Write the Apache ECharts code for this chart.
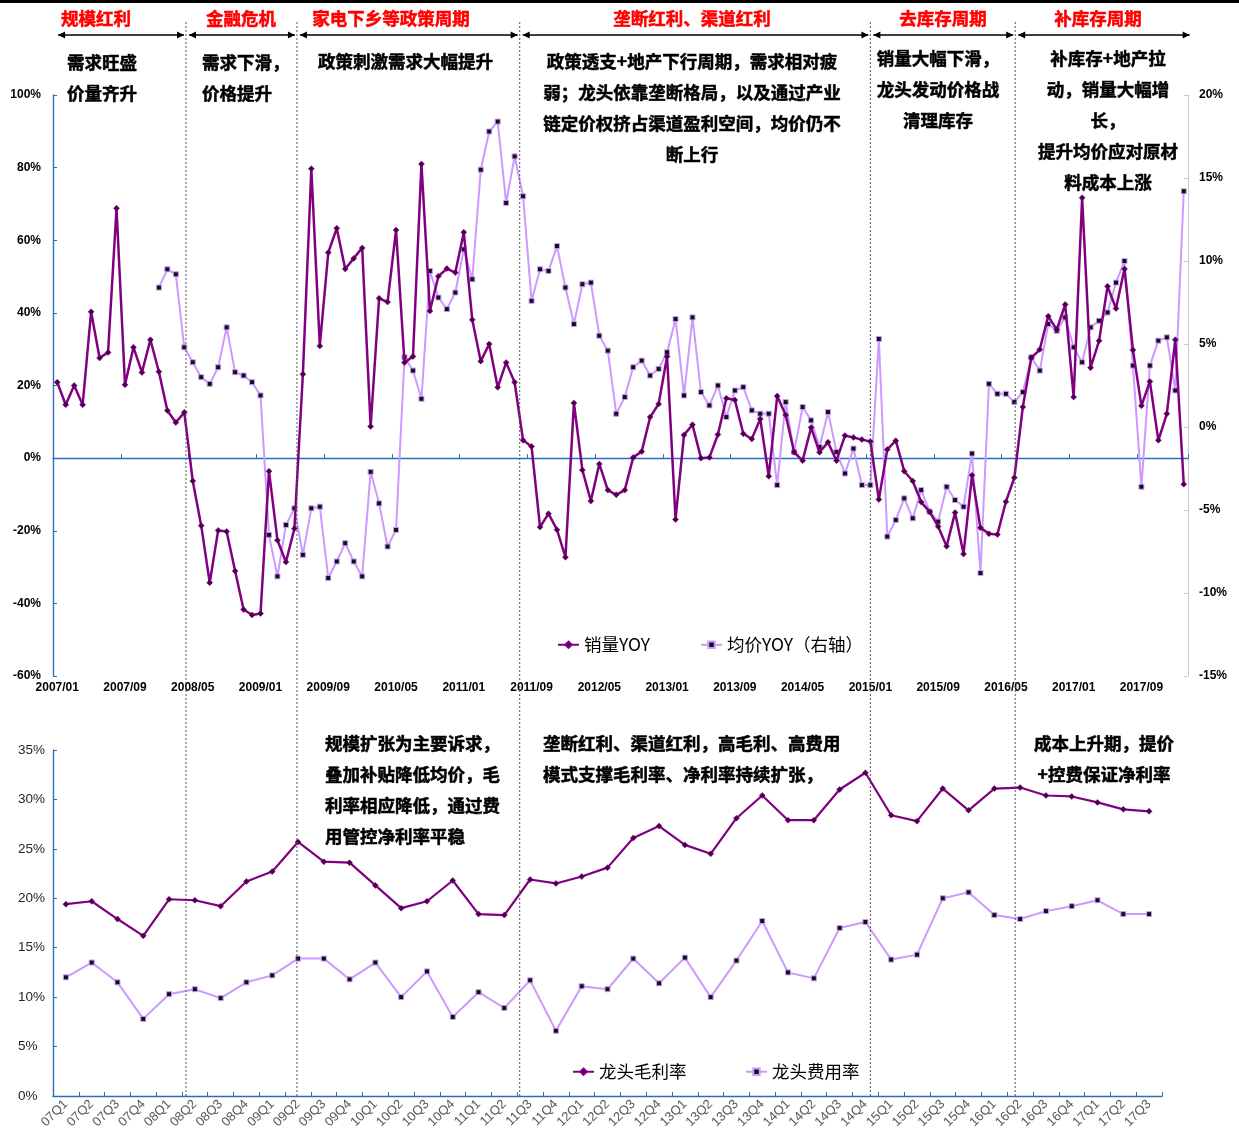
<!DOCTYPE html>
<html>
<head>
<meta charset="utf-8">
<script src="https://cdn.jsdelivr.net/npm/echarts@6/dist/echarts.min.js"></script>
<style>
  html, body { margin: 0; padding: 0; background: #fff; }
  #chart { width: 1239px; height: 1137px; }
</style>
</head>
<body>
<div id="chart"></div>
<script>
// Monthly categories, 2007/01 – 2018/02
const months = [];
for (let y = 2007; y <= 2018; y++) {
  for (let m = 1; m <= 12; m++) {
    if (y === 2018 && m > 2) break;
    months.push(y + '/' + String(m).padStart(2, '0'));
  }
}

// 销量YOY (%), left axis
const salesYoy = [
  20.9, 14.7, 20.0, 14.7, 40.3, 27.6, 29.1, 68.8, 20.2, 30.5, 23.6, 32.6,
  23.8, 13.1, 9.8, 12.6, -6.3, -18.6, -34.3, -19.9, -20.2, -31.1, -41.7, -43.2,
  -42.8, -3.6, -22.6, -28.6, -19.4, 23.1, 79.7, 30.9, 56.6, 63.3, 52.1, 55.0,
  57.9, 8.7, 44.0, 43.0, 62.8, 26.3, 28.0, 81.0, 40.5, 50.1, 52.2, 51.1,
  62.2, 38.1, 26.7, 31.4, 19.5, 26.3, 20.9, 4.9, 3.2, -19.0, -15.3, -19.7,
  -27.3, 15.2, -3.3, -11.8, -1.6, -8.8, -10.1, -8.8, 0.2, 1.8, 11.3, 14.9,
  28.0, -16.9, 6.4, 9.2, 0.0, 0.2, 6.5, 16.5, 16.0, 6.7, 5.3, 10.8,
  -5.0, 17.1, 11.9, 1.6, -0.7, 8.4, 1.6, 4.4, -0.7, 6.2, 5.7, 5.1,
  4.6, -11.4, 2.4, 4.8, -3.6, -6.3, -12.1, -14.8, -18.8, -24.3, -15.0, -26.4,
  -4.7, -19.2, -20.8, -21.0, -12.0, -5.4, 14.1, 27.6, 29.9, 39.1, 35.4, 42.3,
  16.8, 71.7, 24.9, 32.3, 47.3, 41.2, 52.1, 29.8, 14.4, 21.1, 4.9, 12.2,
  32.6, -7.2
];

// 均价YOY (%), right axis; series begins 2008/01
const priceYoy = [
  '-', '-', '-', '-', '-', '-', '-', '-', '-', '-', '-', '-',
  8.4, 9.5, 9.2, 4.8, 3.9, 3.0, 2.6, 3.6, 6.0, 3.3, 3.1, 2.7,
  1.9, -6.5, -9.0, -5.9, -4.9, -7.7, -4.9, -4.8, -9.1, -8.1, -7.0, -8.1,
  -9.0, -2.7, -4.6, -7.2, -6.2, 4.2, 3.4, 1.7, 9.4, 7.8, 7.1, 8.1,
  10.7, 8.9, 15.5, 17.8, 18.4, 13.5, 16.3, 13.9, 7.6, 9.5, 9.4, 10.9,
  8.4, 6.2, 8.6, 8.7, 5.5, 4.6, 0.8, 1.8, 3.6, 4.0, 3.1, 3.5,
  4.5, 6.5, 1.9, 6.6, 2.1, 1.3, 2.5, 0.6, 2.2, 2.4, 1.0, 0.8,
  0.8, -3.5, 1.5, -1.5, 1.2, 0.4, -1.2, 0.9, -1.5, -2.8, -1.3, -3.5,
  -3.5, 5.3, -6.6, -5.6, -4.3, -5.5, -3.8, -5.1, -5.7, -3.6, -4.4, -4.8,
  -1.6, -8.8, 2.6, 2.0, 2.0, 1.5, 2.1, 4.2, 3.4, 6.2, 5.8, 6.6,
  4.8, 3.9, 6.0, 6.4, 6.9, 8.7, 10.0, 3.7, -3.6, 3.7, 5.2, 5.4,
  2.2, 14.2
];

// Quarterly categories, 07Q1 – 17Q3
const quarters = [];
for (let y = 7; y <= 17; y++) {
  for (let q = 1; q <= 4; q++) {
    if (y === 17 && q > 3) break;
    quarters.push(String(y).padStart(2, '0') + 'Q' + q);
  }
}

// 龙头毛利率 / 龙头费用率 (%)
const grossMargin = [
  19.4, 19.7, 17.9, 16.2, 19.9, 19.8, 19.2, 21.7, 22.7, 25.7, 23.7, 23.6,
  21.3, 19.0, 19.7, 21.8, 18.4, 18.3, 21.9, 21.5, 22.2, 23.1, 26.1, 27.3,
  25.4, 24.5, 28.1, 30.4, 27.9, 27.9, 31.0, 32.7, 28.4, 27.8, 31.1, 28.9,
  31.1, 31.2, 30.4, 30.3, 29.7, 29.0, 28.8
];
const expenseRatio = [
  12.0, 13.5, 11.5, 7.8, 10.3, 10.8, 9.9, 11.5, 12.2, 13.9, 13.9, 11.8,
  13.5, 10.0, 12.6, 8.0, 10.5, 8.9, 11.7, 6.6, 11.1, 10.8, 13.9, 11.4,
  14.0, 10.0, 13.7, 17.7, 12.5, 11.9, 17.0, 17.6, 13.8, 14.3, 20.0, 20.6,
  18.3, 17.9, 18.7, 19.2, 19.8, 18.4, 18.4
];

// Period boundaries, in month-index units on the top axis
const periodBounds = [15.2, 28.3, 54.6, 96.0, 113.1];
const periodTitles = ['规模红利', '金融危机', '家电下乡等政策周期', '垄断红利、渠道红利', '去库存周期', '补库存周期'];
const periodTitleX = [96, 241, 391, 692, 943, 1098];

const DARK = '#800080';
const LIGHT = '#cc99ff';
const AXIS_BLUE = '#2f6eb5';
const CJK = '"Noto Sans CJK SC", "Noto Sans", sans-serif';
const LAT = '"Liberation Sans", Arial, sans-serif';

const chart = echarts.init(document.getElementById('chart'), null, { renderer: 'canvas' });

const legendText = { fontFamily: CJK, fontSize: 17.5, color: '#000' };
function legendAt(name, left, top) {
  return {
    data: [name], left: left, top: top, padding: 0,
    itemWidth: 21, itemHeight: 8, itemGap: 0,
    textStyle: legendText, selectedMode: false
  };
}

const option = {
  animation: false,
  backgroundColor: '#fff',
  grid: [
    { left: 53, top: 95, width: 1135, height: 581 },
    { left: 53, top: 750, width: 1109, height: 346 }
  ],
  legend: [
    legendAt('销量YOY', 557, 636),
    legendAt('均价YOY（右轴）', 700, 636),
    legendAt('龙头毛利率', 572, 1063),
    legendAt('龙头费用率', 745, 1063)
  ],
  xAxis: [
    {
      type: 'category', gridIndex: 0, data: months, boundaryGap: true, position: 'bottom',
      axisLine: { show: false, onZero: false }, axisTick: { show: false },
      axisLabel: { interval: 7, margin: 6, fontFamily: LAT, fontWeight: 'bold', fontSize: 12, color: '#000' }
    },
    {
      type: 'category', gridIndex: 0, data: months, boundaryGap: true, position: 'bottom',
      axisLine: { show: true, onZero: true, lineStyle: { color: AXIS_BLUE, width: 1.4 } },
      axisTick: { show: true, inside: true, interval: 7, length: 4, lineStyle: { color: AXIS_BLUE } },
      axisLabel: { show: false }
    },
    {
      type: 'category', gridIndex: 1, data: quarters, boundaryGap: true,
      axisLine: { show: true, lineStyle: { color: AXIS_BLUE, width: 1.4 } },
      axisTick: { show: true, inside: true, length: 4, lineStyle: { color: AXIS_BLUE } },
      axisLabel: { interval: 0, rotate: 45, margin: 6, fontFamily: LAT, fontSize: 13, color: '#595959' }
    }
  ],
  yAxis: [
    {
      type: 'value', gridIndex: 0, min: -60, max: 100, interval: 20, position: 'left',
      axisLine: { show: true, lineStyle: { color: AXIS_BLUE, width: 1.4 } },
      axisTick: { show: true, inside: true, length: 4, lineStyle: { color: AXIS_BLUE } },
      splitLine: { show: false },
      axisLabel: { formatter: '{value}%', margin: 12, fontFamily: LAT, fontWeight: 'bold', fontSize: 12, color: '#000' }
    },
    {
      type: 'value', gridIndex: 0, min: -15, max: 20, interval: 5, position: 'right',
      axisLine: { show: true, lineStyle: { color: '#c8c8c8', width: 1 } },
      axisTick: { show: true, inside: true, length: 4, lineStyle: { color: '#c8c8c8' } },
      splitLine: { show: false },
      axisLabel: { formatter: '{value}%', margin: 11, fontFamily: LAT, fontWeight: 'bold', fontSize: 12, color: '#000' }
    },
    {
      type: 'value', gridIndex: 1, min: 0, max: 35, interval: 5,
      axisLine: { show: true, lineStyle: { color: AXIS_BLUE, width: 1.4 } },
      axisTick: { show: true, inside: true, length: 4, lineStyle: { color: AXIS_BLUE } },
      splitLine: { show: false },
      axisLabel: { formatter: '{value}%', margin: 35, align: 'left', fontFamily: LAT, fontSize: 13.5, color: '#262626' }
    }
  ],
  series: [
    {
      name: '均价YOY（右轴）', type: 'line', xAxisIndex: 0, yAxisIndex: 1, data: priceYoy,
      symbol: 'rect', symbolSize: 5, showAllSymbol: true, z: 2,
      lineStyle: { color: LIGHT, width: 2 },
      itemStyle: { color: '#111', borderColor: LIGHT, borderWidth: 1 }
    },
    {
      name: '销量YOY', type: 'line', xAxisIndex: 0, yAxisIndex: 0, data: salesYoy,
      symbol: 'diamond', symbolSize: 6, showAllSymbol: true, z: 3,
      lineStyle: { color: DARK, width: 2.5 },
      itemStyle: { color: '#4d004d', borderColor: DARK, borderWidth: 0.5 }
    },
    {
      name: '龙头毛利率', type: 'line', xAxisIndex: 2, yAxisIndex: 2, data: grossMargin,
      symbol: 'diamond', symbolSize: 6, showAllSymbol: true, z: 3,
      lineStyle: { color: DARK, width: 2.2 },
      itemStyle: { color: '#4d004d', borderColor: DARK, borderWidth: 0.5 }
    },
    {
      name: '龙头费用率', type: 'line', xAxisIndex: 2, yAxisIndex: 2, data: expenseRatio,
      symbol: 'rect', symbolSize: 5, showAllSymbol: true, z: 2,
      lineStyle: { color: LIGHT, width: 2 },
      itemStyle: { color: '#111', borderColor: LIGHT, borderWidth: 1 }
    }
  ]
};

chart.setOption(option);

// ---- annotations: period dividers, arrows, titles and notes ----
const xa = chart.convertToPixel({ xAxisIndex: 0 }, 0);
const xb = chart.convertToPixel({ xAxisIndex: 0 }, 1);
const monthX = f => xa + f * (xb - xa);
const axisBottomY = chart.convertToPixel({ yAxisIndex: 2 }, 0);
const boundX = periodBounds.map(monthX);

const g = [];
// top rule
g.push({ type: 'rect', shape: { x: 0, y: 0, width: 1239, height: 3 }, style: { fill: '#000' }, z: 10 });

// dotted dividers
boundX.forEach(x => {
  g.push({
    type: 'line', shape: { x1: x, y1: 22, x2: x, y2: axisBottomY },
    style: { stroke: '#555', lineWidth: 1, lineDash: [2, 2] }, z: 10
  });
});

// double-headed arrows
const arrowY = 35;
const arrowEnds = [monthX(0.1)].concat(boundX, [monthX(133.7)]);
for (let i = 0; i < arrowEnds.length - 1; i++) {
  const a = arrowEnds[i] + (i === 0 ? 0 : 3);
  const b = arrowEnds[i + 1] - (i === arrowEnds.length - 2 ? 0 : 2);
  g.push({ type: 'line', shape: { x1: a, y1: arrowY, x2: b, y2: arrowY }, style: { stroke: '#000', lineWidth: 1.3 }, z: 10 });
  g.push({ type: 'polygon', shape: { points: [[a, arrowY], [a + 7, arrowY - 3.5], [a + 7, arrowY + 3.5]] }, style: { fill: '#000' }, z: 10 });
  g.push({ type: 'polygon', shape: { points: [[b, arrowY], [b - 7, arrowY - 3.5], [b - 7, arrowY + 3.5]] }, style: { fill: '#000' }, z: 10 });
}

// period titles
periodTitles.forEach((t, i) => {
  g.push({
    type: 'text', x: periodTitleX[i], y: 18, z: 10,
    style: {
      text: t, fill: '#ff0000', stroke: '#ff0000', lineWidth: 0.5,
      font: 'bold 17.5px ' + CJK, textAlign: 'center', textVerticalAlign: 'middle'
    }
  });
});

// notes
const notes = [
  { x: 67, align: 'left', ys: [62, 93], lines: ['需求旺盛', '价量齐升'] },
  { x: 202, align: 'left', ys: [62, 93], lines: ['需求下滑，', '价格提升'] },
  { x: 318, align: 'left', ys: [61], lines: ['政策刺激需求大幅提升'] },
  { x: 692, align: 'center', ys: [61, 92, 123, 154],
    lines: ['政策透支+地产下行周期，需求相对疲', '弱；龙头依靠垄断格局，以及通过产业', '链定价权挤占渠道盈利空间，均价仍不', '断上行'] },
  { x: 938, align: 'center', ys: [58, 89, 120], lines: ['销量大幅下滑，', '龙头发动价格战', '清理库存'] },
  { x: 1108, align: 'center', ys: [58, 89, 120, 151, 182],
    lines: ['补库存+地产拉', '动，销量大幅增', '长，', '提升均价应对原材', '料成本上涨'] },
  { x: 325, align: 'left', ys: [743, 774, 805, 836],
    lines: ['规模扩张为主要诉求，', '叠加补贴降低均价，毛', '利率相应降低，通过费', '用管控净利率平稳'] },
  { x: 543, align: 'left', ys: [743, 774], lines: ['垄断红利、渠道红利，高毛利、高费用', '模式支撑毛利率、净利率持续扩张，'] },
  { x: 1104, align: 'center', ys: [743, 774], lines: ['成本上升期，提价', '+控费保证净利率'] }
];
notes.forEach(n => {
  n.lines.forEach((t, i) => {
    g.push({
      type: 'text', x: n.x, y: n.ys[i], z: 10,
      style: {
        text: t, fill: '#000', stroke: '#000', lineWidth: 0.5,
        font: 'bold 17.5px ' + CJK, textAlign: n.align, textVerticalAlign: 'middle'
      }
    });
  });
});

chart.setOption({ graphic: g });
</script>
</body>
</html>
